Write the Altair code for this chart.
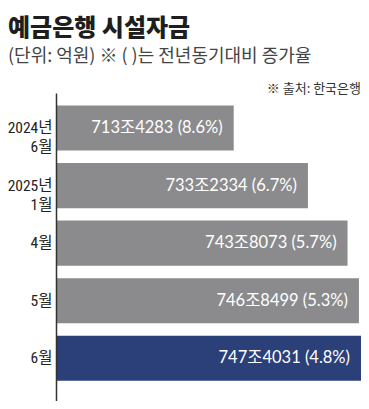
import altair as alt
import pandas as pd

periods = ["2024년\n6월", "2025년\n1월", "4월", "5월", "6월"]
amounts = [7134283, 7332334, 7438073, 7468499, 7474031]  # 억원
growth = [8.6, 6.7, 5.7, 5.3, 4.8]
highlight_period = "6월"

title_text = "예금은행 시설자금"
subtitle_text = "(단위: 억원) ※ ( )는 전년동기대비 증가율"
source_text = "※ 출처: 한국은행"

df = pd.DataFrame({"period": periods, "amount": amounts, "growth": growth})
df["jo"] = df["amount"] / 10000
df["label"] = [f"{a // 10000}조{a % 10000} ({g}%)" for a, g in zip(amounts, growth)]

LEFT = 48
W, H = 305, 308
KR = "Noto Sans CJK KR"
NARROW = "Roboto Condensed, " + KR
NUM = "Lato, " + KR

y = alt.Y(
    "period:N",
    sort=periods,
    title=None,
    scale=alt.Scale(paddingInner=0.2167, paddingOuter=0.283, align=0.382),
    axis=alt.Axis(
        labelExpr="split(datum.label, '\\n')",
        ticks=False,
        grid=False,
        domainColor="#333333",
        domainWidth=1.5,
        labelAlign="right",
        labelBaseline="middle",
        labelPadding=4,
        labelFont=NARROW,
        labelFontSize=15.5,
        labelColor="#222222",
        labelLineHeight=19,
        zindex=1,
    ),
)
x = alt.X("jo:Q", scale=alt.Scale(domain=[666, 747.4], zero=False, clamp=True), axis=None)

bars = alt.Chart(df).mark_bar().encode(
    y=y,
    x=x,
    color=alt.when(alt.datum.period == highlight_period)
    .then(alt.value("#2b3f78"))
    .otherwise(alt.value("#8b8b8d")),
)

labels = alt.Chart(df).mark_text(
    align="right", baseline="middle", dx=-11, color="white", fontSize=16.5, font=NUM
).encode(y=y, x=x, text="label:N")

source = alt.Chart(pd.DataFrame({"t": [source_text]})).mark_text(
    align="right", baseline="bottom", fontSize=13, color="#333333", font=KR
).encode(x=alt.value(W), y=alt.value(3), text="t:N")

chart = (
    alt.layer(bars, labels, source)
    .properties(
        width=W,
        height=H,
        autosize=alt.AutoSizeParams(type="none"),
        padding={"left": LEFT, "top": 85, "right": 0, "bottom": 0},
        title=alt.TitleParams(
            text=title_text,
            subtitle=subtitle_text,
            anchor="start",
            frame="group",
            dx=-LEFT,
            offset=17,
            font=KR,
            fontSize=24,
            fontWeight=900,
            color="#1e1e1e",
            subtitleFont=KR,
            subtitleFontSize=18,
            subtitleColor="#444444",
            subtitlePadding=7,
        ),
    )
    .configure_view(stroke=None)
)

chart.save("out.html", embed_options={"renderer": "svg", "actions": False})
